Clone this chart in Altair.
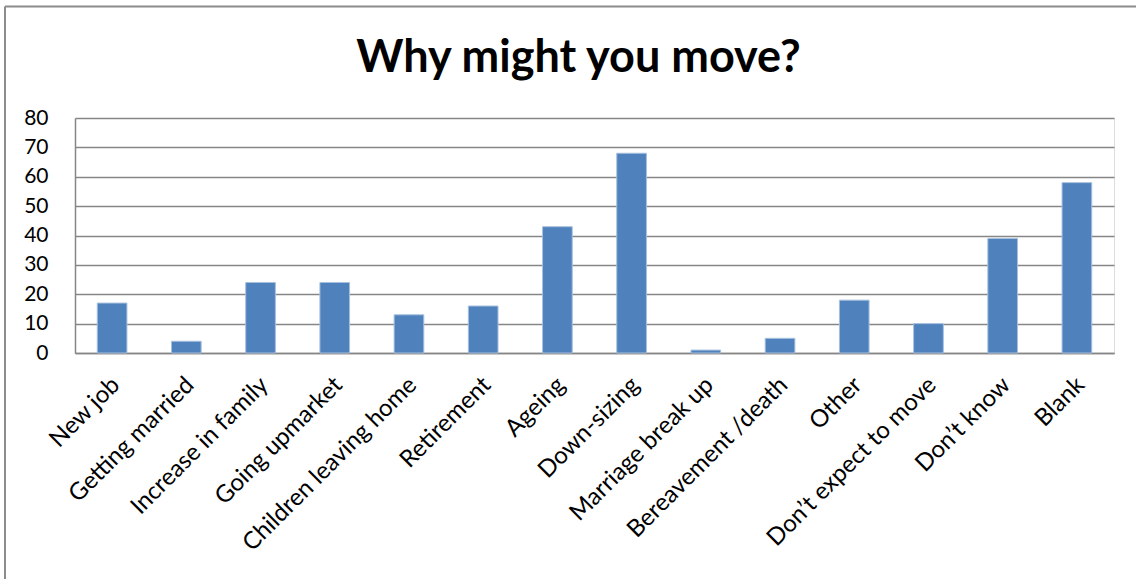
import altair as alt
import pandas as pd

categories = ["New job", "Getting married", "Increase in family", "Going upmarket",
              "Children leaving home", "Retirement", "Ageing", "Down-sizing",
              "Marriage break up", "Bereavement /death", "Other",
              "Don\u2019t expect to move", "Don\u2019t know", "Blank"]
counts = [17, 4, 24, 24, 13, 16, 43, 68, 1, 5, 18, 10, 39, 58]
y_ticks = [0, 10, 20, 30, 40, 50, 60, 70, 80]
title_text = "Why might you move?"

df = pd.DataFrame({"reason": categories, "count": counts})

FONT = "Lato"
W, H = 1039, 235

bars = alt.Chart(df).mark_bar(
    color="#4F81BD", stroke="#A7C0DE", strokeWidth=1
).encode(
    x=alt.X("reason:N", sort=categories,
            scale=alt.Scale(paddingInner=0.6, paddingOuter=0.3),
            axis=alt.Axis(title=None, labelAngle=-45, labelAlign="right",
                          labelBaseline="middle", labelPadding=28, labelOffset=4,
                          labelFont=FONT, labelFontSize=24, labelColor="#000000",
                          ticks=False, domainColor="#868686", domainWidth=1.5,
                          labelOverlap=False, labelLimit=400)),
    y=alt.Y("count:Q", scale=alt.Scale(domain=[0, 80], nice=False),
            axis=alt.Axis(title=None, values=y_ticks, ticks=False, labelPadding=27,
                          labelFont=FONT, labelFontSize=21, labelColor="#000000",
                          domainColor="#868686", domainWidth=1.5,
                          grid=True, gridColor="#868686", gridWidth=1.5))
)

one = alt.Chart(pd.DataFrame({"k": [0]}))
border = one.mark_rule(color="#8C8C8C", strokeWidth=2)
top_line = border.encode(x=alt.value(-70), x2=alt.value(1080), y=alt.value(-111.5))
left_line = border.encode(x=alt.value(-70), y=alt.value(-111.5), y2=alt.value(470))

title = one.mark_text(
    text=title_text, font=FONT, fontSize=45, fontWeight="bold", color="#000000",
    align="center", baseline="alphabetic"
).encode(x=alt.value(503.5), y=alt.value(-46.3))

chart = alt.layer(bars, top_line, left_line, title).properties(
    width=W, height=H,
    autosize=alt.AutoSizeParams(type="none"),
    padding={"left": 75, "top": 118, "right": 22, "bottom": 226},
).configure_view(stroke=None).configure(background="white")

chart.save("out.html", embed_options={"renderer": "svg", "actions": False})
